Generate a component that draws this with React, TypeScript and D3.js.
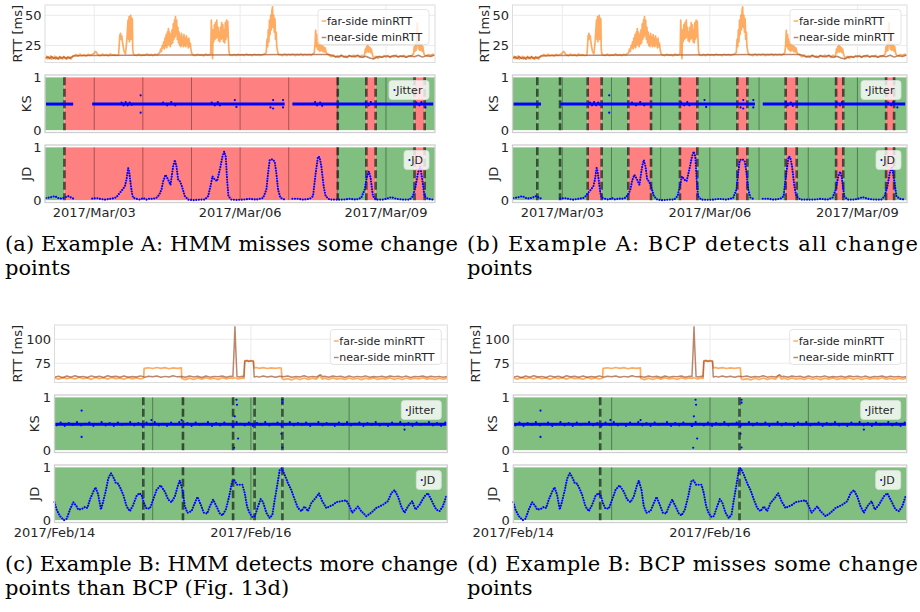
import React from 'react'
import * as d3 from 'd3'

type Pt = [number, number]

// ---------- Example A: hours since 2017/Mar/02 00:00 ----------
const xDomainA: Pt = [-0.3, 192.2]
const tickHoursA = [24, 96, 168]
const tickLabelsA = ['2017/Mar/03', '2017/Mar/06', '2017/Mar/09']
const dayLinesA = [24, 48, 72, 96, 120, 144, 168]
const rttDomainA: Pt = [10.8, 58.6]
const rttTicksA = [25, 50]

const farA: Pt[] = [
  [0, 14], [0.5, 16], [1, 13.8], [1.5, 15.5], [2, 14.6], [2.5, 16.2], [3, 13.5], [3.5, 15], [4, 14.2], [4.5, 16],
  [5, 13.6], [5.5, 15.4], [6, 14.8], [6.5, 13.5], [7, 15.8], [7.5, 14], [8, 15.2], [8.5, 13.7], [9, 15.9], [9.5, 14.4],
  [10, 15], [10.5, 13.4], [11, 15.6], [11.5, 14.2], [12, 15.5], [12.5, 13.6], [13, 15.2],
  [14, 16.5], [15, 17.5], [16, 16.3], [17, 17.8], [18, 16.6], [19, 17.2], [20, 16.2], [21, 17.6], [22, 16.8], [23, 17.4],
  [24, 18.5], [24.5, 20], [25, 19.5], [25.5, 18], [26, 17.2], [27, 16.5], [28, 17.8], [29, 16.8], [30, 17.5], [31, 16.4],
  [32, 17.9], [33, 16.9], [34, 17.3], [35, 16.6],
  [36, 17], [36.3, 24], [36.6, 33], [37, 35], [37.3, 30], [37.6, 33], [38, 27], [38.3, 24], [38.6, 21], [39, 19],
  [39.4, 18], [39.8, 24], [40.1, 30], [40.4, 38], [40.7, 46], [41, 30], [41.2, 49], [41.4, 28], [41.6, 48], [41.8, 32],
  [42, 50], [42.2, 30], [42.4, 48], [42.6, 35], [42.8, 47], [43, 22], [43.3, 18],
  [44, 17], [45, 16.6], [46, 17.8], [47, 16.5], [48, 17.2], [49, 16.8], [50, 18], [51, 16.7], [52, 17.4], [53, 16.5],
  [54, 17.6], [55, 17], [56, 18.5],
  [56.4, 19], [56.8, 22], [57.2, 20], [57.6, 25], [58, 23], [58.3, 28], [58.6, 22], [58.9, 31], [59.2, 24], [59.5, 34],
  [59.8, 23], [60.1, 36], [60.4, 25], [60.6, 39], [60.9, 26], [61.2, 36], [61.5, 24], [61.8, 34], [62.1, 26], [62.4, 38],
  [62.7, 27], [63, 43], [63.3, 30], [63.6, 46], [63.9, 32], [64.1, 49], [64.4, 34], [64.7, 46], [65, 30], [65.3, 40],
  [65.6, 27], [65.9, 36], [66.2, 25], [66.5, 33], [66.8, 24], [67.1, 35], [67.4, 26], [67.7, 32], [68, 24], [68.3, 34],
  [68.6, 25], [68.9, 31], [69.2, 24], [69.5, 33], [69.8, 26], [70.1, 30], [70.4, 23], [70.7, 31], [71, 24], [71.4, 27],
  [71.8, 21], [72.2, 18], [73, 17],
  [74, 16.5], [75, 17.6], [76, 16.8], [77, 17.3], [78, 16.4], [79, 17.8], [80, 16.9], [81, 17.5],
  [81.5, 18], [81.8, 46], [82.1, 30], [82.4, 14], [82.7, 38], [83, 28], [83.3, 42], [83.6, 30], [83.9, 44], [84.2, 31],
  [84.5, 46], [84.8, 32], [85.1, 40], [85.4, 29], [85.7, 36], [86, 28], [86.3, 40], [86.6, 30], [86.9, 44], [87.2, 31],
  [87.5, 42], [87.8, 28], [88.1, 38], [88.4, 27], [88.7, 44], [89, 30], [89.3, 46], [89.6, 32], [89.9, 45], [90.2, 30],
  [90.5, 20], [90.9, 17],
  [92, 16.6], [93, 17.5], [94, 16.5], [95, 17.7], [96, 16.9], [97, 17.4], [98, 16.6], [99, 17.8], [100, 16.8], [101, 17.3],
  [102, 16.5], [103, 17.6], [104, 16.9], [105, 17.5], [106, 16.7], [107, 17.2], [108, 17.8],
  [108.9, 19], [109.3, 30], [109.6, 24], [109.9, 38], [110.2, 28], [110.5, 46], [110.8, 34], [111.1, 50], [111.4, 38],
  [111.7, 54], [112, 57], [112.3, 40], [112.6, 50], [112.9, 36], [113.2, 47], [113.5, 30], [113.8, 36], [114.1, 24],
  [114.5, 20], [115, 17.5],
  [116, 17], [117, 16.5], [118, 17.8], [119, 16.6], [120, 17.4], [121, 16.8], [122, 17.6], [123, 16.5], [124, 17.3],
  [125, 16.9], [126, 17.7], [127, 16.6], [128, 17.4], [129, 16.8], [130, 17.5], [131, 16.7], [132, 18],
  [132.6, 19], [133, 26], [133.3, 37.5], [133.6, 24], [133.9, 34], [134.2, 22], [134.5, 30], [134.8, 21], [135.1, 28],
  [135.4, 20], [135.7, 26], [136, 21], [136.4, 25], [136.8, 20], [137.2, 24], [137.6, 19.5], [138, 23], [138.5, 19], [139, 18],
  [140, 16.8], [141, 15.6], [142, 17.2], [143, 15.2], [144, 16.5], [145, 15], [146, 16.9], [147, 15.4], [148, 16.2],
  [149, 14.8], [150, 16.7], [151, 15.5], [152, 17], [153, 15.3], [154, 16.4], [155, 15.1], [156, 16.8], [157, 15.6],
  [157.5, 18], [157.8, 22], [158.1, 19], [158.4, 24], [158.7, 20], [159, 25], [159.3, 19.5], [159.6, 24], [159.9, 20],
  [160.2, 23], [160.5, 19], [160.8, 22], [161.2, 18], [161.6, 16],
  [162, 14.5], [163, 15.8], [164, 14.2], [165, 16], [166, 15.1], [167, 16.5], [168, 15.3], [169, 16.8], [170, 15],
  [171, 16.2], [172, 15.4], [173, 16.9], [174, 15.2], [175, 16.4], [176, 15.6], [177, 16.8], [178, 15.3], [179, 16.5],
  [180, 15.7], [181, 17],
  [181.6, 18], [182, 24], [182.3, 20], [182.6, 26], [182.9, 21], [183.2, 38], [183.5, 44], [183.8, 26], [184.1, 22],
  [184.4, 27], [184.7, 21], [185, 26], [185.3, 21], [185.6, 25], [185.9, 20], [186.2, 24], [186.6, 19], [187, 17],
  [188, 16.2], [189, 17.4], [190, 16.6], [191, 17.8], [192, 16.5]
]

const nearA: Pt[] = [
  [0, 14.5], [1, 15.5], [2, 14], [3, 15.8], [4, 14.2], [5, 15], [6, 13.8], [7, 15.4], [8, 14.3], [9, 15.6], [10, 14],
  [11, 15.2], [12, 14.4], [13, 15.5], [13.6, 16.3], [20, 16.6], [40, 16.8], [60, 17], [80, 17.1], [100, 17.3],
  [120, 17.4], [140, 17.4], [142, 16.2], [144, 15.4], [146, 16.6], [148, 15.2], [150, 16.4], [152, 15.6], [154, 16.8],
  [156, 15], [158, 16], [160, 14.5], [162, 13.8], [164, 15.8], [166, 15.2], [168, 16.3], [170, 15.4], [172, 16.6],
  [174, 15.5], [176, 16.2], [178, 15.1], [180, 16.4], [182, 15.6], [184, 16.8], [186, 15.3], [188, 16.5], [190, 15.8],
  [192, 17]
]

// KS (Jitter): stretches where the statistic sits at its usual level, plus stray points
const ksLevelA = 0.494
const ksSegA: Pt[] = [[0.2, 13.6], [23, 118], [121.8, 191.3]]
const ksOutA: Pt[] = [
  [8.2, 0.5], [46.9, 0.66], [46.9, 0.33], [112.3, 0.57], [112.3, 0.41], [117.2, 0.57], [117.2, 0.43], [111, 0.43],
  [93.4, 0.57], [94.2, 0.44], [187.5, 0.43],
  [37.5, 0.52], [38.5, 0.47], [39.5, 0.53], [40.5, 0.47], [41.5, 0.52], [42.5, 0.48], [58, 0.52], [60, 0.47],
  [62, 0.53], [64, 0.47], [82, 0.52], [83.5, 0.47], [85, 0.53], [86, 0.47], [133, 0.53], [134, 0.47], [135.5, 0.52],
  [136.5, 0.46], [158, 0.52], [159.5, 0.47], [160.5, 0.53], [183, 0.52], [184.5, 0.47], [185.5, 0.53]
]

// JD: NaN marks a gap in the measurements
const jdA: Pt[] = [
  [0.17, 0.04], [2.14, 0.05], [4.6, 0.075], [6.25, 0.04], [7.89, 0.03], [9.54, 0.05], [11.18, 0.075], [12.82, 0.045],
  [13.64, 0.03], [13.7, NaN],
  [23.0, 0.03], [25.15, 0.04], [26.8, 0.025], [29.26, 0.01], [31.73, 0.025], [34.19, 0.04], [35.34, 0.075],
  [36.66, 0.14], [37.97, 0.2], [39.12, 0.26], [39.94, 0.39], [40.76, 0.61], [41.26, 0.54], [41.92, 0.33],
  [42.57, 0.14], [43.23, 0.045], [44.87, 0.025], [46.52, 0.01], [48.16, 0.04], [49.81, 0.01], [51.45, 0.03],
  [53.09, 0.025], [54.74, 0.045], [56.05, 0.1], [57.2, 0.2], [58.02, 0.36], [59.17, 0.48], [60.49, 0.39],
  [61.64, 0.29], [62.96, 0.64], [63.78, 0.76], [64.6, 0.64], [65.42, 0.39], [66.24, 0.36], [67.06, 0.29],
  [68.71, 0.075], [70.35, 0.01], [72.82, 0.0], [76.1, 0.01], [78.57, 0.01], [80.21, 0.075], [81.36, 0.26],
  [82.35, 0.45], [83.5, 0.39], [84.65, 0.36], [85.96, 0.575], [87.28, 0.825], [88.1, 0.92], [88.92, 0.825],
  [89.58, 0.39], [90.24, 0.075], [91.72, 0.01], [94.18, 0.005], [97.47, 0.01], [100.76, 0.025], [104.05, 0.01],
  [107.33, 0.04], [108.98, 0.2], [109.8, 0.51], [110.62, 0.76], [111.94, 0.775], [113.09, 0.73], [113.91, 0.51],
  [114.73, 0.2], [115.88, 0.045], [118.02, 0.01], [118.1, NaN],
  [121.8, 0.025], [124.6, 0.025], [127.06, 0.01], [130.35, 0.025], [131.99, 0.075], [133.3, 0.51], [134.45, 0.825],
  [135.28, 0.81], [136.1, 0.64], [137.25, 0.26], [138.23, 0.075], [140.2, 0.01], [143.49, 0.01], [146.78, 0.01],
  [150.07, 0.025], [153.36, 0.01], [155.82, 0.045], [157.47, 0.2], [158.62, 0.45], [159.6, 0.54], [160.42, 0.42],
  [161.57, 0.075], [163.22, 0.01], [166.5, 0.01], [168.15, 0.025], [170.62, 0.056], [173.08, 0.025], [176.37, 0.01],
  [179.66, 0.01], [181.3, 0.075], [182.61, 0.26], [183.76, 0.51], [184.92, 0.64], [185.9, 0.39], [187.05, 0.075],
  [188.7, 0.025], [191.16, 0.01]
]

const hmmAChanges = [9.3, 144.2, 158.3, 162.9, 182.1, 187.1]
const hmmAStates = ['g', 'r', 'g', 'r', 'g', 'r', 'g']
const bcpAChanges = [11.8, 22.9, 36.4, 43.2, 56.2, 67.3, 81.4, 89.9, 109.4, 114.3, 133, 138.4, 157.6, 161.1, 182, 185.9]
const bcpAStates = ['g', 'g', 'g', 'r', 'g', 'r', 'g', 'r', 'g', 'r', 'g', 'r', 'g', 'r', 'g', 'r', 'g']

// ---------- Example B: hours since 2017/Feb/14 00:00 ----------
const xDomainB: Pt = [0, 96]
const tickHoursB = [0, 48]
const tickLabelsB = ['2017/Feb/14', '2017/Feb/16']
const dayLinesB = [24, 48, 72]
const rttDomainB: Pt = [54.8, 114.9]
const rttTicksB = [75, 100]

const farB: Pt[] = [
  [0, 59.5], [1, 58.2], [2, 60.1], [3, 58.8], [4, 59.9], [5, 58.4], [6, 60.3], [7, 58.9], [8, 59.6], [9, 58.1], [10, 60],
  [11, 58.7], [12, 59.8], [13, 58.3], [14, 60.2], [15, 58.9], [16, 59.4], [17, 58.2], [18, 60.1], [19, 58.6], [20, 59.7],
  [21, 58.5], [21.8, 59.5], [21.9, 69.5], [23, 70.2], [24, 69.4], [25, 70.5], [26, 69.6], [27, 70.3], [28, 69.2],
  [29, 70.1], [30, 69.5], [31, 70], [31.1, 59], [32, 57.8], [33, 59.4], [34, 58], [35, 59.6], [36, 58.3], [37, 59.9],
  [38, 58.5], [39, 59.3], [40, 58.1], [41, 59.8], [42, 58.6], [43, 59.5], [43.6, 59], [44, 60], [44.6, 59], [45, 58.4],
  [46, 59.6], [46.3, 59], [46.5, 77.5], [47, 78], [47.5, 77.2], [48, 77.8], [48.6, 77.3], [48.8, 70], [49.5, 70.4],
  [50, 69.5], [51, 70.3], [52, 69.4], [53, 70.1], [54, 69.6], [55, 70.2], [55.4, 69.8], [55.6, 59], [56, 57.8],
  [57, 58.9], [58, 57.6], [59, 59.2], [60, 57.9], [61, 59.5], [62, 58.1], [63, 59.3], [64, 58.4], [64.8, 62],
  [65.5, 58.2], [66, 59.4], [67, 58], [68, 59.6], [69, 58.3], [70, 59.1], [71, 57.9], [72, 59.5], [73, 58.2],
  [74, 59.2], [75, 57.8], [76, 59.4], [77, 58.3], [78, 59.6], [79, 58], [80, 59.1], [81, 58.4], [82, 59.7], [83, 58.1],
  [84, 59.3], [85, 57.9], [86, 59.5], [87, 58.2], [88, 59.4], [89, 58.6], [90, 59.8], [91, 58.3], [92, 59.1],
  [93, 57.9], [94, 59.4], [95, 58.2], [96, 59.3]
]

const nearB: Pt[] = [
  [0, 60.2], [1, 61.3], [2, 59.8], [3, 61.6], [4, 60.4], [5, 61.9], [6, 60.6], [7, 61.2], [8, 60], [9, 61.7], [10, 60.5],
  [11, 61.4], [12, 60.1], [13, 61.8], [14, 60.7], [15, 61.3], [16, 60.3], [17, 61.5], [18, 60.2], [19, 61.1], [20, 60.6],
  [21, 61.7], [22, 60.4], [23, 61.3], [24, 60.8], [25, 61.6], [26, 60.3], [27, 61.2], [28, 60.5], [29, 61.8], [30, 60.7],
  [31, 61.1], [32, 60.2], [33, 61.5], [34, 60.6], [35, 61.3], [36, 60], [37, 61.6], [38, 60.4], [39, 61.2], [40, 60.7],
  [41, 61.5], [42, 60.3], [43, 61.4], [43.6, 61], [43.9, 90], [44.1, 113], [44.3, 90], [44.6, 61], [45, 60.5],
  [46, 61.3], [46.3, 61], [46.5, 77], [47, 77.6], [47.5, 76.8], [48, 77.4], [48.6, 77], [48.8, 60.5], [49.5, 61.2],
  [50, 60.4], [51, 61.5], [52, 60.6], [53, 61.3], [54, 60.2], [55, 61.4], [56, 60.8], [57, 61.6], [58, 60.3],
  [59, 61.1], [60, 60.6], [61, 61.8], [62, 60.4], [63, 61.2], [64, 60.5], [65, 63], [65.5, 60.8], [66, 61.4],
  [67, 60.2], [68, 61.5], [69, 60.7], [70, 61.3], [71, 60.1], [72, 61.6], [73, 60.4], [74, 61.2], [75, 60.6],
  [76, 61.7], [77, 60.3], [78, 61.1], [79, 60.5], [80, 61.4], [81, 60.2], [82, 61.6], [83, 60.8], [84, 61.3],
  [85, 60.4], [86, 61.5], [87, 60.1], [88, 61.2], [89, 60.7], [90, 61.6], [91, 60.3], [92, 61.4], [93, 60.5],
  [94, 61.2], [95, 60.4], [96, 61.1]
]

// KS (Jitter) for B: one value per hour (taken at hh:30) and stray points
const ksLevelB = 0.49
const ksSegB: Pt[] = [[0.2, 95.8]]
const ksHourlyB = [
  0.47, 0.52, 0.46, 0.51, 0.48, 0.53, 0.47, 0.5, 0.52, 0.46, 0.49, 0.53, 0.47, 0.51, 0.46, 0.52, 0.48, 0.5, 0.53, 0.47,
  0.51, 0.46, 0.52, 0.48, 0.53, 0.47, 0.5, 0.46, 0.52, 0.49, 0.53, 0.47, 0.51, 0.46, 0.52, 0.48, 0.5, 0.53, 0.46, 0.51,
  0.47, 0.52, 0.49, 0.46, 0.53, 0.5, 0.47, 0.52, 0.46, 0.51, 0.48, 0.53, 0.47, 0.5, 0.52, 0.46, 0.49, 0.53, 0.47, 0.51,
  0.48, 0.52, 0.46, 0.5, 0.53, 0.47, 0.51, 0.49, 0.46, 0.52, 0.48, 0.53, 0.47, 0.5, 0.52, 0.46, 0.51, 0.48, 0.53, 0.47,
  0.5, 0.46, 0.52, 0.49, 0.53, 0.47, 0.51, 0.46, 0.52, 0.48, 0.5, 0.53, 0.47, 0.51, 0.46, 0.52
]
const ksOutB: Pt[] = [
  [6.63, 0.75], [6.63, 0.25], [44.47, 0.955], [44.6, 0.86], [44.06, 0.64], [44.87, 0.22], [43.9, 0.045],
  [55.7, 0.955], [55.7, 0.9], [55.45, 0.31], [55.7, 0.05], [23.7, 0.57], [85.55, 0.39], [31.05, 0.57], [43.66, 0.46]
]

const jdB: Pt[] = [
  [0, 0.34], [0.53, 0.2], [1.34, 0.075], [2.32, 0.0], [2.97, 0.025], [3.78, 0.2], [4.6, 0.34], [5.41, 0.26],
  [5.82, 0.2], [6.63, 0.21], [7.45, 0.25], [8.01, 0.23], [8.67, 0.39], [9.48, 0.54], [10.05, 0.62], [10.7, 0.48],
  [11.35, 0.2], [11.92, 0.36], [12.57, 0.57], [13.14, 0.79], [13.79, 0.89], [14.36, 0.82], [15.01, 0.7], [15.58, 0.69],
  [16.15, 0.6], [16.8, 0.48], [17.62, 0.26], [18.43, 0.17], [19.24, 0.29], [20.06, 0.46], [20.71, 0.51], [21.28, 0.48],
  [21.85, 0.325], [22.5, 0.22], [23.31, 0.22], [24.13, 0.39], [24.94, 0.57], [25.92, 0.66], [26.97, 0.54],
  [27.79, 0.39], [28.6, 0.34], [29.41, 0.45], [30.23, 0.67], [30.63, 0.75], [31.28, 0.57], [31.85, 0.26],
  [32.5, 0.14], [33.48, 0.17], [34.3, 0.325], [34.95, 0.44], [35.76, 0.29], [36.49, 0.14], [37.31, 0.125],
  [37.96, 0.26], [38.77, 0.39], [39.59, 0.26], [40.4, 0.125], [41.05, 0.09], [41.87, 0.2], [42.68, 0.45],
  [43.41, 0.73], [43.9, 0.76], [44.63, 0.67], [45.28, 0.67], [45.93, 0.67], [46.5, 0.51], [47.07, 0.26],
  [47.72, 0.125], [48.37, 0.06], [48.94, 0.075], [49.75, 0.26], [50.4, 0.4], [50.97, 0.34], [51.78, 0.14],
  [52.6, 0.04], [53.25, 0.1], [53.82, 0.39], [54.39, 0.64], [55.04, 0.95], [55.53, 0.98], [56.26, 0.86],
  [57.07, 0.7], [57.89, 0.57], [58.7, 0.39], [59.51, 0.23], [60.33, 0.17], [61.14, 0.26], [61.95, 0.17],
  [62.77, 0.325], [63.83, 0.42], [64.64, 0.51], [65.45, 0.36], [66.43, 0.23], [67.24, 0.26], [68.06, 0.29],
  [68.87, 0.34], [70.09, 0.36], [71.31, 0.375], [71.96, 0.29], [72.78, 0.14], [73.59, 0.21], [74.16, 0.26],
  [74.97, 0.17], [76.2, 0.075], [77.42, 0.14], [78.64, 0.23], [80.26, 0.29], [81.49, 0.36], [82.3, 0.51],
  [83.11, 0.57], [83.93, 0.45], [84.74, 0.26], [85.55, 0.14], [86.37, 0.26], [87.42, 0.36], [88.24, 0.2],
  [89.21, 0.29], [90.43, 0.45], [91.25, 0.51], [92.06, 0.39], [93.28, 0.2], [94.1, 0.17], [94.91, 0.26], [95.73, 0.45]
]

const hmmBChanges = [21.7, 31.4, 43.65, 48.9, 55.7]
const hmmBStates = ['g', 'g', 'g', 'g', 'g', 'g']
const bcpBChanges = [21.2, 55.2]
const bcpBStates = ['g', 'g', 'g']

// ---------- drawing ----------
const stateFill: Record<string, string> = { g: '#80bf80', r: '#ff8080' }
const farColor = '#ff7f0e'
const nearColor = '#a0522d'
const FONT = 'DejaVu Sans, Verdana, sans-serif'
const TXT = '#262626'

interface SubplotProps {
  left: number
  right: number
  top: number
  xDomain: Pt
  tickHours: number[]
  tickLabels: string[]
  dayLines: number[]
  rttDomain: Pt
  rttTicks: number[]
  far: Pt[]
  near: Pt[]
  ksLevel: number
  ksSeg: Pt[]
  ksHourly?: number[]
  ksOut: Pt[]
  jd: Pt[]
  changes: number[]
  states: string[]
  rttLabelDx: number
  ksLabelDx: number
  id: string
}

const Subplot = (p: SubplotProps) => {
  const { left, right, top } = p
  const ph = 57.5
  const ksTop = top + 70
  const jdTop = top + 140
  const x = d3.scaleLinear().domain(p.xDomain).range([left, right])
  const yR = d3.scaleLinear().domain(p.rttDomain).range([top + ph, top])
  const yK = d3.scaleLinear().domain([-0.045, 1.045]).range([ksTop + ph, ksTop])
  const yJ = d3.scaleLinear().domain([-0.045, 1.045]).range([jdTop + ph, jdTop])

  const rttLine = d3.line<Pt>().x(d => x(d[0])).y(d => yR(d[1]))
  const jdLine = d3
    .line<Pt>()
    .defined(d => !isNaN(d[1]))
    .x(d => x(d[0]))
    .y(d => yJ(d[1]))

  const bounds = [p.xDomain[0], ...p.changes, p.xDomain[1]]

  const statePanel = (y: d3.ScaleLinear<number, number>, pTop: number, name: string, legendW: number, children: React.ReactNode) => (
    <g>
      {p.states.map((s, i) => (
        <rect
          key={i}
          x={x(bounds[i])}
          width={x(bounds[i + 1]) - x(bounds[i])}
          y={y(1)}
          height={y(0) - y(1)}
          fill={stateFill[s]}
        />
      ))}
      {p.dayLines.map(h => (
        <line key={h} x1={x(h)} x2={x(h)} y1={y(1)} y2={y(0)} stroke='#000' strokeOpacity={0.4} strokeWidth={0.9} />
      ))}
      {p.changes.map((c, i) => (
        <line
          key={i}
          x1={x(c)}
          x2={x(c)}
          y1={y(1)}
          y2={y(0)}
          stroke='#000'
          strokeOpacity={0.6}
          strokeWidth={2.6}
          strokeDasharray='8,3.5'
        />
      ))}
      {children}
      <rect x={left} y={pTop} width={right - left} height={ph} fill='none' stroke='#cfcfcf' strokeWidth={1.3} />
      {[0, 1].map(t => (
        <text key={t} x={left - 3.5} y={y(t)} textAnchor='end' dominantBaseline='central' fontSize={13} fill={TXT}>
          {t}
        </text>
      ))}
      <text
        transform={`translate(${left - p.ksLabelDx},${pTop + ph / 2}) rotate(-90)`}
        textAnchor='middle'
        dominantBaseline='central'
        fontSize={13}
        fill={TXT}
      >
        {name === 'Jitter' ? 'KS' : 'JD'}
      </text>
      <g transform={`translate(${right - 6 - legendW},${pTop + 5.5})`}>
        <rect width={legendW} height={19} rx={3} fill='#fff' fillOpacity={0.8} stroke='#dddddd' strokeWidth={0.8} />
        <circle cx={5.5} cy={9.5} r={1.1} fill='#0000ff' />
        <text x={7.2} y={10} dominantBaseline='central' fontSize={11} fill={TXT}>
          {name}
        </text>
      </g>
    </g>
  )

  return (
    <g fontFamily={FONT}>
      <defs>
        <clipPath id={`clip-${p.id}`}>
          <rect x={left} y={top} width={right - left} height={ph} />
        </clipPath>
      </defs>
      {/* RTT panel */}
      <rect x={left} y={top} width={right - left} height={ph} fill='#fff' />
      {p.rttTicks.map(t => (
        <line key={t} x1={left} x2={right} y1={yR(t)} y2={yR(t)} stroke='#ebebeb' strokeWidth={1} />
      ))}
      {p.tickHours.map(h => (
        <line key={h} x1={x(h)} x2={x(h)} y1={top} y2={top + ph} stroke='#ebebeb' strokeWidth={1} />
      ))}
      <g clipPath={`url(#clip-${p.id})`}>
        <path d={rttLine(p.far) || ''} fill='none' stroke={farColor} strokeOpacity={0.65} strokeWidth={1.7} strokeLinejoin='round' />
        <path d={rttLine(p.near) || ''} fill='none' stroke={nearColor} strokeOpacity={0.7} strokeWidth={1.5} strokeLinejoin='round' />
      </g>
      <rect x={left} y={top} width={right - left} height={ph} fill='none' stroke='#dcdcdc' strokeWidth={1} />
      {p.rttTicks.map(t => (
        <text key={t} x={left - 3.5} y={yR(t)} textAnchor='end' dominantBaseline='central' fontSize={13} fill={TXT}>
          {t}
        </text>
      ))}
      <text
        transform={`translate(${left - p.rttLabelDx},${top + ph / 2}) rotate(-90)`}
        textAnchor='middle'
        dominantBaseline='central'
        fontSize={13}
        fill={TXT}
      >
        RTT [ms]
      </text>
      <g transform={`translate(${right - 6 - 111},${top + 4.5})`}>
        <rect width={111} height={35} rx={3} fill='#fff' fillOpacity={0.8} stroke='#dddddd' strokeWidth={0.8} />
        <line x1={3.7} x2={8.3} y1={11.5} y2={11.5} stroke={farColor} strokeOpacity={0.65} strokeWidth={1.5} />
        <text x={9} y={11.5} dominantBaseline='central' fontSize={11} fill={TXT}>
          far-side minRTT
        </text>
        <line x1={3.7} x2={8.3} y1={28} y2={28} stroke={nearColor} strokeOpacity={0.7} strokeWidth={1.5} />
        <text x={9} y={28} dominantBaseline='central' fontSize={11} fill={TXT}>
          near-side minRTT
        </text>
      </g>

      {/* KS panel */}
      {statePanel(
        yK,
        ksTop,
        'Jitter',
        40,
        <g>
          {p.ksSeg.map((s, i) => (
            <line key={i} x1={x(s[0])} x2={x(s[1])} y1={yK(p.ksLevel)} y2={yK(p.ksLevel)} stroke='#0000ff' strokeWidth={3} />
          ))}
          {(p.ksHourly || []).map((v, i) => (
            <circle key={'h' + i} cx={x(i + 0.5)} cy={yK(v)} r={1.1} fill='#0000ff' />
          ))}
          {p.ksOut.map((d, i) => (
            <circle key={'o' + i} cx={x(d[0])} cy={yK(d[1])} r={1.1} fill='#0000ff' />
          ))}
        </g>
      )}

      {/* JD panel */}
      {statePanel(
        yJ,
        jdTop,
        'JD',
        25,
        <path
          d={jdLine(p.jd) || ''}
          fill='none'
          stroke='#0000ff'
          strokeWidth={2.1}
          strokeLinecap='round'
          strokeDasharray='0.01,2.6'
        />
      )}

      {p.tickHours.map((h, i) => (
        <text key={h} x={x(h)} y={top + 207.8} textAnchor='middle' dominantBaseline='central' fontSize={13} fill={TXT}>
          {p.tickLabels[i]}
        </text>
      ))}
    </g>
  )
}

const captions = [
  { x: 5, y: 251, w: 453, l1: '(a) Example A: HMM misses some change', l2: 'points' },
  { x: 467, y: 251, w: 451, l1: '(b) Example A: BCP detects all change', l2: 'points' },
  { x: 5, y: 571, w: 453, l1: '(c) Example B: HMM detects more change', l2: 'points than BCP (Fig. 13d)' },
  { x: 467, y: 571, w: 451, l1: '(d) Example B: BCP misses some change', l2: 'points' }
]

const App = () => {
  const exA = { xDomain: xDomainA, tickHours: tickHoursA, tickLabels: tickLabelsA, dayLines: dayLinesA, rttDomain: rttDomainA, rttTicks: rttTicksA, far: farA, near: nearA, ksLevel: ksLevelA, ksSeg: ksSegA, ksOut: ksOutA, jd: jdA }
  const exB = { xDomain: xDomainB, tickHours: tickHoursB, tickLabels: tickLabelsB, dayLines: dayLinesB, rttDomain: rttDomainB, rttTicks: rttTicksB, far: farB, near: nearB, ksLevel: ksLevelB, ksSeg: ksSegB, ksHourly: ksHourlyB, ksOut: ksOutB, jd: jdB }
  return (
    <svg width={920} height={612} style={{ position: 'absolute', left: 0, top: 0, background: '#fff' }}>
      <Subplot id='a' left={45} right={435} top={5} {...exA} changes={hmmAChanges} states={hmmAStates} rttLabelDx={28} ksLabelDx={19} />
      <Subplot id='b' left={512.5} right={907} top={5} {...exA} changes={bcpAChanges} states={bcpAStates} rttLabelDx={28} ksLabelDx={19} />
      <Subplot id='c' left={54.5} right={447.3} top={325} {...exB} changes={hmmBChanges} states={hmmBStates} rttLabelDx={37.5} ksLabelDx={20.5} />
      <Subplot id='d' left={513.3} right={906.7} top={325} {...exB} changes={bcpBChanges} states={bcpBStates} rttLabelDx={37.5} ksLabelDx={20.5} />
      {captions.map((c, i) => (
        <g key={i} fontFamily='DejaVu Serif, serif' fontSize={21} fill='#000'>
          <text x={c.x} y={c.y} textLength={c.w} lengthAdjust='spacing'>
            {c.l1}
          </text>
          <text x={c.x} y={c.y + 24}>
            {c.l2}
          </text>
        </g>
      ))}
    </svg>
  )
}

export default App
